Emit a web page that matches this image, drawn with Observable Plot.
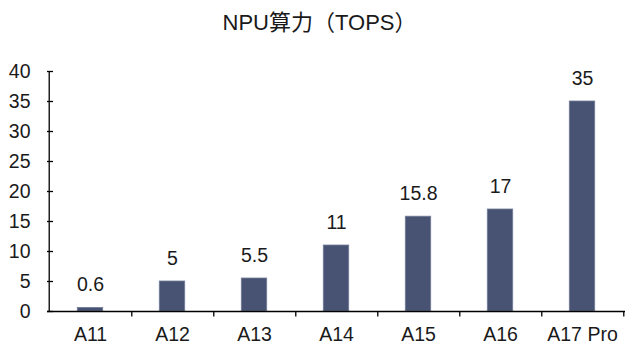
<!DOCTYPE html>
<html>
<head>
<meta charset="utf-8">
<script src="https://cdn.jsdelivr.net/npm/d3@7"></script>
<script src="https://cdn.jsdelivr.net/npm/@observablehq/plot@0.6"></script>
<style>
  html, body { margin: 0; padding: 0; background: #fff; }
  svg { display: block; }
</style>
</head>
<body>
<div id="chart"></div>
<script>
const title = "NPU算力（TOPS）";
const chips = ["A11", "A12", "A13", "A14", "A15", "A16", "A17 Pro"];
const tops = [0.6, 5, 5.5, 11, 15.8, 17, 35];
const yTicks = [0, 5, 10, 15, 20, 25, 30, 35, 40];

const data = chips.map((c, i) => ({chip: c, value: tops[i]}));

const W = 625, H = 349;
const mL = 47, mR = 0, mT = 71, mB = 38;
const step = (W - mL - mR) / chips.length;
const barW = 26;
const inset = (step - barW) / 2;
const font = "'Liberation Sans', Arial, 'Noto Sans CJK SC', sans-serif";

const chart = Plot.plot({
  width: W,
  height: H,
  marginLeft: mL,
  marginRight: mR,
  marginTop: mT,
  marginBottom: mB,
  style: {fontFamily: font, fontSize: "19px", color: "#1a1a1a", background: "#fff"},
  x: {domain: chips, padding: 0, label: null},
  y: {domain: [0, 40], label: null},
  marks: [
    Plot.barY(data, {x: "chip", y: "value", fill: "#485373", stroke: "#737d98", strokeWidth: 0.8, insetLeft: inset, insetRight: inset}),
    Plot.text(data, {x: "chip", y: "value", text: d => String(d.value), dy: -23, fill: "#1a1a1a", fontSize: 19.5}),
    Plot.axisY({ticks: yTicks, tickSize: 0, tickPadding: 17, tickFormat: d => String(d), fontSize: 19.5, fill: "#1a1a1a", label: null}),
    Plot.axisX({tickSize: 0, tickPadding: 16, fontSize: 19.5, fill: "#1a1a1a", label: null}),
    // inward y ticks
    Plot.ruleY(yTicks, {y: d => d, stroke: "#000", strokeWidth: 1.3, insetRight: W - mL - mR - 6}),
    // left axis line
    Plot.ruleX([chips[0]], {x: d => d, y1: 0, y2: 40, dx: -step / 2, stroke: "#000", strokeWidth: 1.3}),
    // bottom axis line
    Plot.ruleY([0], {stroke: "#000", strokeWidth: 1.3}),
    // category boundary ticks (downward)
    Plot.ruleX(chips, {x: d => d, y1: 0, y2: -0.9, dx: step / 2, stroke: "#000", strokeWidth: 1.3}),
    Plot.text([title], {text: d => d, frameAnchor: "top", dx: -17, dy: -57, fontSize: 22, fill: "#1a1a1a"})
  ]
});
document.getElementById("chart").appendChild(chart);
</script>
</body>
</html>
